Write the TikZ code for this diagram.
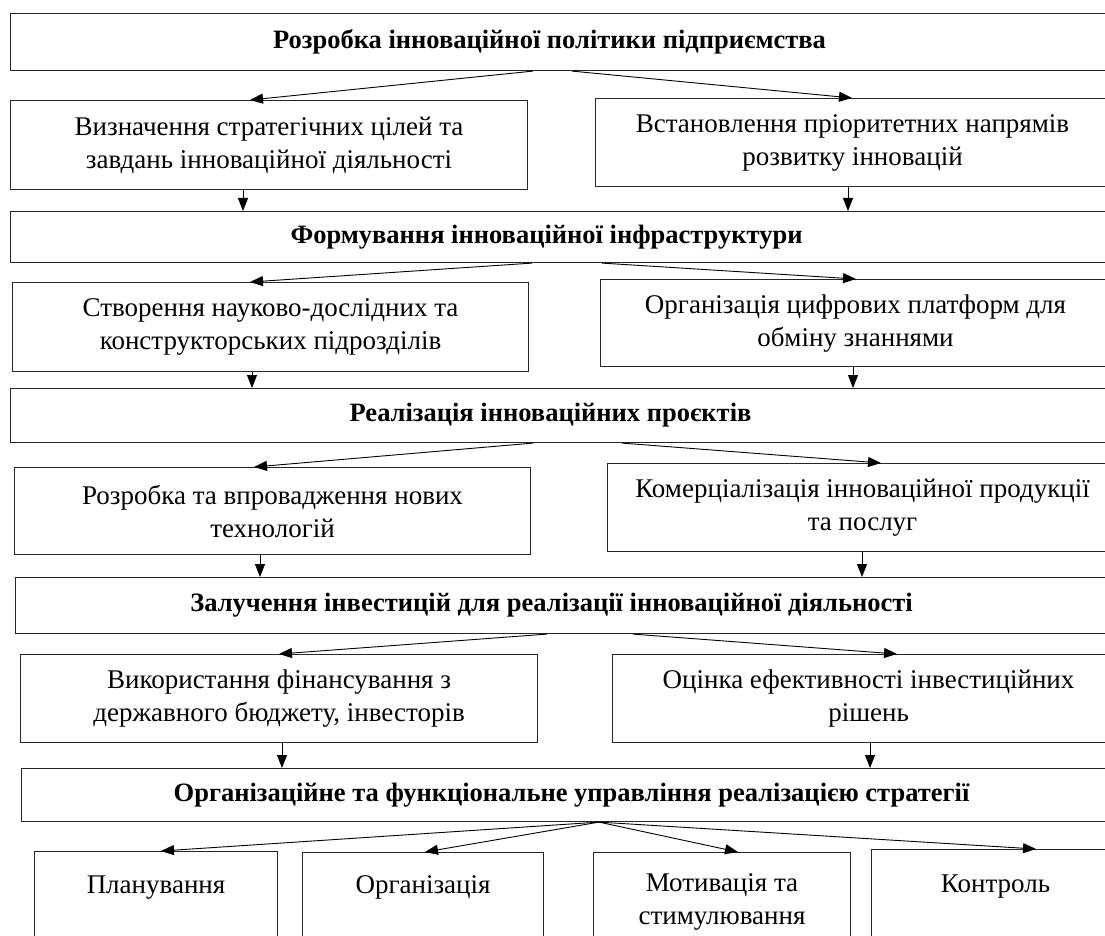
\documentclass[tikz,border=0pt]{standalone}
\usepackage{fontspec}
\setmainfont{Liberation Serif}
\usetikzlibrary{arrows.meta}
\begin{document}
\begin{tikzpicture}[x=1pt,y=-1pt,
  box/.style={draw=black!85,line width=1.1pt,inner sep=0pt,align=center,anchor=north west,
    font=\fontsize{27}{33}\selectfont},
  title/.style={box,font=\fontsize{26.5}{33}\selectfont\bfseries},
  arr/.style={line width=0.9pt,-{Triangle[length=13pt,width=10pt]}}]
\useasboundingbox (0,0) rectangle (1105,936);
\clip (0,0) rectangle (1105,936);
% row 1
\node[title,minimum width=1105,minimum height=57] (T) at (10,13) {\hspace*{-27pt}Розробка інноваційної політики підприємства};
\node[box,minimum width=517,minimum height=89] (A1) at (10,100) {Визначення стратегічних цілей та\\завдань інноваційної діяльності};
\node[box,minimum width=514,minimum height=88] (A2) at (595,98) {Встановлення пріоритетних напрямів\\розвитку інновацій};
% row 2
\node[title,minimum width=1105,minimum height=51] (B) at (10,211) {\hspace*{-33pt}Формування інноваційної інфраструктури};
\node[box,minimum width=516,minimum height=89] (B1) at (12,282) {Створення науково-дослідних та\\конструкторських підрозділів};
\node[box,minimum width=510,minimum height=87] (B2) at (600,279) {Організація цифрових платформ для\\обміну знаннями};
% row 3
\node[title,minimum width=1105,minimum height=54] (C) at (10,388) {\hspace*{-25pt}Реалізація інноваційних проєктів};
\node[box,minimum width=516,minimum height=87] (C1) at (14,467) {Розробка та впровадження нових\\технологій};
\node[box,minimum width=510,minimum height=88] (C2) at (607,463) {Комерціалізація інноваційної продукції\\та послуг};
% row 4
\node[title,minimum width=1100,minimum height=56] (D) at (15,577) {\hspace*{-28pt}Залучення інвестицій для реалізації інноваційної діяльності};
\node[box,minimum width=517,minimum height=88] (D1) at (20,654) {Використання фінансування з\\державного бюджету, інвесторів};
\node[box,minimum width=512,minimum height=88] (D2) at (612,654) {Оцінка ефективності інвестиційних\\рішень};
% row 5
\node[title,minimum width=1100,minimum height=53] (E) at (21,768) {Організаційне та функціональне управління реалізацією стратегії};
\node[box,minimum width=243,minimum height=99] (F1) at (34,851) {Планування\\\mbox{}};
\node[box,minimum width=241,minimum height=98] (F2) at (302,852) {Організація\\\mbox{}};
\node[box,minimum width=257,minimum height=98] (F3) at (593,852) {Мотивація та\\стимулювання};
\node[box,minimum width=248,minimum height=101] (F4) at (871,849) {Контроль\\\mbox{}};
% connectors
\draw[arr] ([xshift=523pt]T.south west) -- ([xshift=240pt]A1.north west);
\draw[arr] ([xshift=562pt]T.south west) -- ([xshift=257pt]A2.north west);
\draw[arr] ([xshift=233pt]A1.south west) -- ([xshift=233pt]B.north west);
\draw[arr] ([xshift=253pt]A2.south west) -- ([xshift=838pt]B.north west);
\draw[arr] ([xshift=522pt]B.south west) -- ([xshift=238pt]B1.north west);
\draw[arr] ([xshift=592pt]B.south west) -- ([xshift=256pt]B2.north west);
\draw[arr] ([xshift=240pt]B1.south west) -- ([xshift=242pt]C.north west);
\draw[arr] ([xshift=253pt]B2.south west) -- ([xshift=843pt]C.north west);
\draw[arr] ([xshift=523pt]C.south west) -- ([xshift=240pt]C1.north west);
\draw[arr] ([xshift=612pt]C.south west) -- ([xshift=274pt]C2.north west);
\draw[arr] ([xshift=246pt]C1.south west) -- ([xshift=245pt]D.north west);
\draw[arr] ([xshift=255pt]C2.south west) -- ([xshift=847pt]D.north west);
\draw[arr] ([xshift=532pt]D.south west) -- ([xshift=259pt]D1.north west);
\draw[arr] ([xshift=618pt]D.south west) -- ([xshift=285pt]D2.north west);
\draw[arr] ([xshift=262pt]D1.south west) -- ([xshift=261pt]E.north west);
\draw[arr] ([xshift=258pt]D2.south west) -- ([xshift=849pt]E.north west);
\coordinate (e0) at ([xshift=578pt]E.south west);
\draw[arr] (e0) -- ([xshift=127pt]F1.north west);
\draw[arr] (e0) -- ([xshift=123pt]F2.north west);
\draw[arr] (e0) -- ([xshift=145pt]F3.north west);
\draw[arr] (e0) -- ([xshift=165pt]F4.north west);
\end{tikzpicture}
\end{document}
